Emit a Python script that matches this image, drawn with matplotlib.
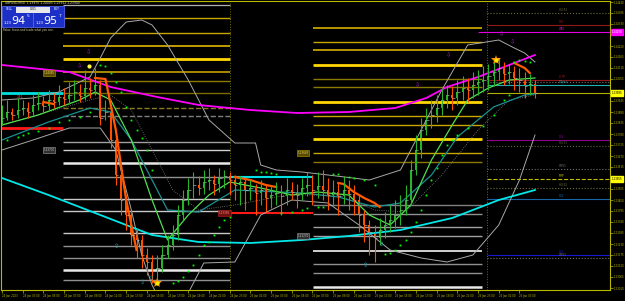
import matplotlib.pyplot as plt
from matplotlib.patches import Rectangle
from matplotlib.transforms import blended_transform_factory
import numpy as np

# GBPUSD M30, bar 0 = 24 Jan 01:00
first_open = 1.23840
closes = [1.23860, 1.23890, 1.23875, 1.23900, 1.23910, 1.23890, 1.23925, 1.23935, 1.23920, 1.23950,
          1.23940, 1.23965, 1.23955, 1.23975, 1.23990, 1.23970, 1.24010, 1.24000, 1.24025, 1.23860,
          1.23890, 1.23750, 1.23575, 1.23450, 1.23375, 1.23275, 1.23250, 1.23175, 1.23140, 1.23100,
          1.23110, 1.23175, 1.23225, 1.23275, 1.23375, 1.23450, 1.23500, 1.23525, 1.23510, 1.23540,
          1.23550, 1.23530, 1.23560, 1.23570, 1.23550, 1.23525, 1.23540, 1.23500, 1.23510, 1.23485,
          1.23500, 1.23460, 1.23475, 1.23485, 1.23470, 1.23500, 1.23490, 1.23475, 1.23510, 1.23525,
          1.23500, 1.23520, 1.23500, 1.23475, 1.23490, 1.23470, 1.23500, 1.23480, 1.23450, 1.23375,
          1.23325, 1.23290, 1.23260, 1.23300, 1.23325, 1.23350, 1.23375, 1.23400, 1.23450, 1.23600,
          1.23700, 1.23800, 1.23850, 1.23875, 1.23910, 1.23950, 1.23975, 1.23960, 1.23990, 1.24010,
          1.24000, 1.24025, 1.24040, 1.24050, 1.24070, 1.24090, 1.24110, 1.24080, 1.24090, 1.24060,
          1.24050, 1.24020, 1.24030, 1.23985]
highs = [1.23925, 1.23950, 1.23910, 1.23960, 1.23950, 1.23940, 1.23975, 1.23990, 1.23970, 1.24000,
         1.23985, 1.24025, 1.24010, 1.24040, 1.24050, 1.24030, 1.24100, 1.24060, 1.24110, 1.24050,
         1.23950, 1.23900, 1.23760, 1.23600, 1.23475, 1.23400, 1.23310, 1.23275, 1.23210, 1.23175,
         1.23175, 1.23225, 1.23275, 1.23325, 1.23425, 1.23500, 1.23560, 1.23590, 1.23570, 1.23600,
         1.23610, 1.23575, 1.23610, 1.23600, 1.23590, 1.23575, 1.23570, 1.23560, 1.23550, 1.23530,
         1.23550, 1.23525, 1.23520, 1.23540, 1.23525, 1.23560, 1.23540, 1.23530, 1.23560, 1.23590,
         1.23575, 1.23590, 1.23600, 1.23560, 1.23550, 1.23540, 1.23570, 1.23550, 1.23525, 1.23475,
         1.23400, 1.23350, 1.23325, 1.23360, 1.23390, 1.23425, 1.23450, 1.23475, 1.23525, 1.23650,
         1.23775, 1.23860, 1.23910, 1.23950, 1.23975, 1.24010, 1.24025, 1.24020, 1.24050, 1.24070,
         1.24060, 1.24090, 1.24100, 1.24120, 1.24130, 1.24140, 1.24160, 1.24140, 1.24130, 1.24120,
         1.24110, 1.24090, 1.24080, 1.24050]
lows = [1.23825, 1.23850, 1.23850, 1.23860, 1.23875, 1.23860, 1.23875, 1.23900, 1.23890, 1.23900,
        1.23910, 1.23925, 1.23925, 1.23930, 1.23950, 1.23940, 1.23950, 1.23960, 1.23975, 1.23825,
        1.23850, 1.23710, 1.23525, 1.23375, 1.23300, 1.23225, 1.23160, 1.23110, 1.23075, 1.23035,
        1.23050, 1.23090, 1.23160, 1.23200, 1.23250, 1.23350, 1.23425, 1.23460, 1.23475, 1.23480,
        1.23500, 1.23475, 1.23490, 1.23510, 1.23475, 1.23450, 1.23425, 1.23400, 1.23450, 1.23375,
        1.23425, 1.23390, 1.23410, 1.23425, 1.23375, 1.23425, 1.23450, 1.23410, 1.23450, 1.23470,
        1.23425, 1.23460, 1.23450, 1.23400, 1.23425, 1.23375, 1.23430, 1.23400, 1.23375, 1.23290,
        1.23240, 1.23175, 1.23140, 1.23225, 1.23260, 1.23290, 1.23310, 1.23325, 1.23375, 1.23425,
        1.23575, 1.23660, 1.23775, 1.23810, 1.23840, 1.23875, 1.23910, 1.23900, 1.23925, 1.23950,
        1.23940, 1.23960, 1.23975, 1.23990, 1.24000, 1.24020, 1.24050, 1.24025, 1.24030, 1.24000,
        1.23990, 1.23960, 1.23975, 1.23960]

# indicator lines (bar index, price)
magenta_x = [0, 13, 21, 30, 38, 48, 57, 67, 76, 82, 86, 92, 99, 103]
magenta_y = [1.24125, 1.24090, 1.24015, 1.23965, 1.23925, 1.23900, 1.23885, 1.23890, 1.23910,
             1.23960, 1.24015, 1.24065, 1.24135, 1.24175]
cyan_x = [0, 9, 19, 29, 38, 48, 58, 67, 77, 87, 96, 103]
cyan_y = [1.23560, 1.23475, 1.23375, 1.23275, 1.23240, 1.23235, 1.23250, 1.23270, 1.23300,
          1.23360, 1.23450, 1.23500]
upper_x = [0, 6, 11, 17, 19, 21, 24, 27, 29, 32, 36, 40, 45, 49, 50, 53, 58, 63, 71, 77, 81, 85,
           90, 96, 99, 101, 103]
upper_y = [1.23950, 1.23960, 1.23990, 1.24065, 1.24160, 1.24260, 1.24340, 1.24350, 1.24325,
           1.24225, 1.24050, 1.23850, 1.23735, 1.23735, 1.23625, 1.23600, 1.23590, 1.23575,
           1.23550, 1.23600, 1.23800, 1.24000, 1.24225, 1.24250, 1.24210, 1.24185, 1.24140]
lower_x = [0, 6, 13, 19, 22, 25, 27, 29, 31, 33, 36, 39, 45, 50, 56, 63, 69, 75, 81, 86, 91, 96,
           100, 103]
lower_y = [1.23700, 1.23750, 1.23810, 1.23810, 1.23700, 1.23400, 1.23175, 1.23025, 1.22925,
           1.22900, 1.22985, 1.23135, 1.23140, 1.23375, 1.23450, 1.23435, 1.23325, 1.23200,
           1.23160, 1.23140, 1.23175, 1.23325, 1.23550, 1.23775]
mid_x = [0, 17, 21, 25, 29, 33, 38, 45, 55, 65, 72, 78, 85, 92, 98, 103]
mid_y = [1.23825, 1.23950, 1.23975, 1.23900, 1.23700, 1.23500, 1.23400, 1.23425, 1.23475,
         1.23475, 1.23400, 1.23390, 1.23575, 1.23800, 1.23950, 1.23975]
lime_x = [0, 7, 15, 18, 21, 25, 29, 32, 36, 40, 44, 50, 56, 61, 67, 71, 75, 79, 83, 87, 90, 94,
          98, 103]
lime_y = [1.23825, 1.23875, 1.23950, 1.23990, 1.23950, 1.23750, 1.23450, 1.23250, 1.23375,
          1.23475, 1.23540, 1.23510, 1.23475, 1.23490, 1.23475, 1.23375, 1.23325, 1.23425,
          1.23650, 1.23825, 1.23950, 1.24010, 1.24050, 1.24060]
teal_x = [0, 9, 17, 21, 25, 29, 32, 38, 45, 58, 65, 72, 77, 83, 88, 95, 101, 103]
teal_y = [1.23750, 1.23840, 1.23910, 1.23890, 1.23750, 1.23550, 1.23400, 1.23390, 1.23500,
          1.23485, 1.23465, 1.23415, 1.23435, 1.23575, 1.23765, 1.23915, 1.23975, 1.23980]
orange_segs = [([18, 20, 22, 24, 26], [1.24060, 1.24055, 1.23800, 1.23450, 1.23200]),
               ([45, 48, 51, 53], [1.23565, 1.23550, 1.23525, 1.23515]),
               ([65, 66, 68, 70, 72, 73], [1.23535, 1.23530, 1.23490, 1.23460, 1.23435, 1.23415]),
               ([99, 101, 102], [1.24135, 1.24110, 1.24085]),
               ([8, 10], [1.23940, 1.23930])]

sar_x = [1, 3, 4, 5, 7, 9, 11, 13, 15, 17,
         19, 20, 21, 22, 23, 24, 25, 26, 27, 28, 29,
         33, 34, 35, 36, 37, 38, 39, 40, 41, 42, 43, 44,
         49, 50, 51, 52, 53,
         54, 56, 58, 59, 61, 62,
         64, 65, 67, 68, 70, 72,
         74, 75, 76, 77, 78, 79, 80, 81, 82, 83, 84, 85, 86, 87, 88, 90, 93, 95, 97, 98,
         99, 100, 101, 102]
sar_y = [1.23750, 1.23765, 1.23775, 1.23785, 1.23795, 1.23810, 1.23840, 1.23850, 1.23865, 1.23890,
         1.24125, 1.24120, 1.24085, 1.24040, 1.23990, 1.23915, 1.23850, 1.23800, 1.23760, 1.23700, 1.23600,
         1.23035, 1.23045, 1.23065, 1.23095, 1.23125, 1.23175, 1.23225, 1.23240, 1.23275, 1.23315,
         1.23350, 1.23365,
         1.23600, 1.23590, 1.23590, 1.23585, 1.23580,
         1.23385, 1.23390, 1.23400, 1.23410, 1.23415, 1.23415,
         1.23580, 1.23580, 1.23565, 1.23560, 1.23550, 1.23525,
         1.23180, 1.23185, 1.23200, 1.23225, 1.23250, 1.23290, 1.23340, 1.23400, 1.23475, 1.23550,
         1.23610, 1.23675, 1.23725, 1.23750, 1.23775, 1.23810, 1.23820, 1.23875, 1.23950, 1.23975,
         1.24140, 1.24150, 1.24145, 1.24140]

# support / resistance levels
left_levels = [1.24425, 1.24360, 1.24285, 1.24220, 1.24155, 1.24090, 1.24045, 1.23985, 1.23910,
               1.23870, 1.23740, 1.23700, 1.23635, 1.23565, 1.23455, 1.23395, 1.23285, 1.23220,
               1.23160, 1.23100, 1.23050]
left_styles = [('#b0b0b0', 0.9, '-'), ('#c8a800', 1.0, '-'), ('#c8a800', 1.0, '-'),
               ('#e0b800', 1.2, '-'), ('#ffd700', 2.0, '-'), ('#c8a000', 1.2, '-'),
               ('#8a7a00', 1.0, '-'), ('#7a6a00', 1.0, '-'), ('#8a7a20', 1.0, '--'),
               ('#808080', 1.0, '--'), ('#a0a0a0', 1.0, '-'), ('#d0d0d0', 1.0, '-'),
               ('#e8e8e8', 1.8, '-'), ('#909090', 1.0, '-'), ('#c8c8c8', 1.0, '-'),
               ('#c8c8c8', 1.0, '-'), ('#c8c8c8', 1.0, '-'), ('#909090', 1.0, '-'),
               ('#909090', 1.0, '-'), ('#e8e8e8', 1.8, '-'), ('#909090', 1.0, '-')]
right_levels = [1.24310, 1.24240, 1.24200, 1.24125, 1.24055, 1.24015, 1.23940, 1.23870, 1.23825,
                1.23755, 1.23685, 1.23640, 1.23425, 1.23380, 1.23315, 1.23270, 1.23195, 1.23130,
                1.23085, 1.23015]
right_styles = [('#d4b000', 1.2, '-'), ('#c8a800', 1.0, '-'), ('#d4b000', 1.2, '-'),
                ('#ffd700', 2.0, '-'), ('#8a7a00', 1.0, '-'), ('#8a7a00', 1.0, '-'),
                ('#ffd700', 2.0, '-'), ('#c8a800', 1.0, '-'), ('#c8a800', 1.0, '-'),
                ('#ffd700', 2.0, '-'), ('#c8a800', 1.0, '-'), ('#8a7a00', 1.0, '-'),
                ('#808080', 1.0, '-'), ('#909090', 1.0, '-'), ('#a0a0a0', 1.0, '-'),
                ('#a0a0a0', 1.0, '-'), ('#d0d0d0', 1.4, '-'), ('#909090', 1.0, '-'),
                ('#909090', 1.0, '-'), ('#e8e8e8', 1.8, '-')]
# pivot lines on the right edge: price, label
pivot_prices = [1.24385, 1.24325, 1.24290, 1.24050, 1.24040, 1.24025, 1.23985, 1.23750,
                1.23720, 1.23605, 1.23555, 1.23510, 1.23455, 1.23175, 1.23160]
pivot_labels = ['H4 R2', 'DR1', 'WR1', 'D PP', '', 'DOpen', '', 'DS1', 'H4 S1', 'DMS1',
                'MPP', 'H4 S2', 'DS2', 'DS3', 'DMS3']
pivot_styles = [('#6a6a30', ':'), ('#901818', '-'), ('#e000e0', '-'), ('#901818', '-'),
                ('#707070', ':'), ('#20b0b0', '-'), ('#b0b000', '-'), ('#900090', '-'),
                ('#606040', ':'), ('#707070', ':'), ('#c0c000', '--'), ('#707040', ':'),
                ('#1868a8', '-'), ('#1818d0', '-'), ('#707070', ':')]

dates = ['24 Jan 2023', '24 Jan 03:00', '24 Jan 05:00', '24 Jan 07:00', '24 Jan 09:00',
         '24 Jan 11:00', '24 Jan 13:00', '24 Jan 15:00', '24 Jan 17:00', '24 Jan 19:00',
         '24 Jan 21:00', '24 Jan 23:00', '25 Jan 01:00', '25 Jan 03:00', '25 Jan 05:00',
         '25 Jan 07:00', '25 Jan 09:00', '25 Jan 11:00', '25 Jan 13:00', '25 Jan 15:00',
         '25 Jan 17:00', '25 Jan 19:00', '25 Jan 21:00', '25 Jan 23:00', '26 Jan 01:00',
         '26 Jan 03:00']
price_ticks = [1.24440, 1.24385, 1.24330, 1.24275, 1.24220, 1.24165, 1.24110, 1.24055,
               1.24000, 1.23945, 1.23890, 1.23835, 1.23780, 1.23725, 1.23670, 1.23615,
               1.23560, 1.23505, 1.23450, 1.23395, 1.23340, 1.23285, 1.23230, 1.23175,
               1.23120, 1.23065, 1.23010]
# highlighted price tags on the right scale
tag_prices = [1.24290, 1.23985, 1.23555]
tag_colors = [('#ff00ff', 'white'), ('#ffff00', 'black'), ('#ffff00', 'black')]

FG = '#b8b800'
BULL = '#28b428'
BEAR = '#ff5000'

fig = plt.figure(figsize=(6.25, 3.01), dpi=100, facecolor='black')
ax = fig.add_axes([1 / 625, 11 / 301, 609 / 625, 289 / 301])
ax.set_facecolor('black')
x0, x1 = -0.19, 117.5
ax.set_xlim(x0, x1)
ax.set_ylim(1.23000, 1.24445)

# level zones
for p, (c, w, ls) in zip(left_levels, left_styles):
    ax.hlines(p, 11.8, 44.1, colors=c, lw=w, linestyles=ls)
for p, (c, w, ls) in zip(right_levels, right_styles):
    ax.hlines(p, 60.1, 92.8, colors=c, lw=w, linestyles=ls)
ax.hlines(1.23985, x0, 11.8, colors='#00e0e0', lw=2)
ax.hlines(1.23810, x0, 11.8, colors='#ff1818', lw=2)
ax.hlines(1.23565, 44.1, 60.1, colors='#00e0e0', lw=1.5)
ax.hlines(1.23385, 44.1, 60.1, colors='#ff1818', lw=1.5)
for p, (c, ls) in zip(pivot_prices, pivot_styles):
    ax.hlines(p, 93.7, x1, colors=c, lw=0.8, linestyles=ls)
ax.hlines(1.24290, 92.0, 93.7, colors='#e000e0', lw=0.8)
for p, lab, (c, ls) in zip(pivot_prices, pivot_labels, pivot_styles):
    if lab:
        ax.text(107.6, p + 0.00003, lab, color=c, fontsize=2, va='bottom', ha='left')
ax.vlines([44.1, 93.7], 1.23, 1.24445, colors='#707000', lw=0.7, linestyles=':')

# bands and moving averages
ax.plot(upper_x, upper_y, color='#a8a8a8', lw=0.7)
ax.plot(lower_x, lower_y, color='#a8a8a8', lw=0.7)
ax.plot(mid_x, mid_y, color='#808080', lw=0.6, ls=':')
ax.plot(magenta_x, magenta_y, color='#ff00ff', lw=1.3)
ax.plot(cyan_x, cyan_y, color='#00e8e8', lw=1.3)
ax.plot(teal_x, teal_y, color='#1a9090', lw=0.9)
ax.plot(lime_x, lime_y, color='#50e050', lw=0.9)
for sx, sy in orange_segs:
    ax.plot(sx, sy, color='#ff5a00', lw=1.6)

# candles
idx = np.arange(len(closes))
c = np.array(closes)
o = np.array([first_open] + closes[:-1])
col = np.where(c >= o, BULL, BEAR)
ax.vlines(idx, lows, highs, colors=col, lw=0.8)
ax.bar(idx, np.abs(c - o), bottom=np.minimum(c, o), width=0.35, color=col)
ax.hlines(c, idx, idx + 0.45, colors='#d0d0d0', lw=0.4)

# parabolic SAR
ax.plot(sar_x, sar_y, 's', color='#00ff00', ms=1.3, mew=0)

# signal arrows and marks
for sx, sy in [(16.8, 1.24190), (14.9, 1.24120), (96.6, 1.24280), (98.6, 1.24240),
               (86.4, 1.24175), (80.4, 1.24025)]:
    ax.text(sx, sy, '\u21e9', color='#a020c0', fontsize=4.5, ha='center', va='center')
for sx, sy in [(27.1, 1.23035), (29.0, 1.23060), (22.2, 1.23215), (70.3, 1.23120),
               (73.4, 1.23225)]:
    ax.text(sx, sy, '\u21e7', color='#20a8b0', fontsize=4.5, ha='center', va='center')
ax.plot([30, 95.5], [1.23035, 1.24150], '*', color='#ff9000', ms=7, mew=0)
ax.plot([30, 95.5], [1.23035, 1.24150], 'o', color='#ffe800', ms=3, mew=0)
ax.plot([16.8], [1.24120], 'o', color='#ffff40', ms=3, mew=0)
ax.text(3.5, 1.23965, '241', color='#ff3030', fontsize=2.5, ha='center', va='center')

box = dict(boxstyle='square,pad=0.25', lw=0.4)
ax.text(9.1, 1.24085, '1.24085', fontsize=2, color='#e0d060', va='center', ha='center',
        bbox=dict(box, fc='#5a4a00', ec='#b0a000'))
ax.text(9.1, 1.23700, '1.23700', fontsize=2, color='#c0c0c0', va='center', ha='center',
        bbox=dict(box, fc='#303030', ec='#a0a0a0'))
ax.text(58.2, 1.23685, '1.23685', fontsize=2, color='#e0d060', va='center', ha='center',
        bbox=dict(box, fc='#5a4a00', ec='#b0a000'))
ax.text(58.2, 1.23270, '1.23270', fontsize=2, color='#c0c0c0', va='center', ha='center',
        bbox=dict(box, fc='#303030', ec='#a0a0a0'))
ax.text(43.0, 1.23385, '1.23385', fontsize=2, color='#ff9090', va='center', ha='center',
        bbox=dict(box, fc='#701010', ec='#c02020'))

# axes styling
for s in ax.spines.values():
    s.set_color(FG)
    s.set_linewidth(0.8)
ax.set_xticks([4 * k for k in range(len(dates))])
ax.set_xticklabels(dates, ha='left')
ax.yaxis.tick_right()
ax.set_yticks(price_ticks)
# the coloured tags sit on top of the scale, so hide the tick text under them
ytl = []
for p in price_ticks:
    near = min(abs(p - t) for t in tag_prices) < 0.0003
    ytl.append('' if near else '%.5f' % p)
ax.set_yticklabels(ytl)
ax.tick_params(colors=FG, labelsize=1.9, length=2, width=0.5, pad=0.8)

tr = blended_transform_factory(ax.transAxes, ax.transData)
for p, (fc, tc) in zip(tag_prices, tag_colors):
    ax.text(1.003, p, '%.5f' % p, transform=tr, fontsize=1.9, color=tc, va='center',
            ha='left', bbox=dict(boxstyle='square,pad=0.3', fc=fc, ec=fc), clip_on=False)

# trade panel overlay (pixel coordinates)
ov = fig.add_axes([0, 0, 1, 1])
ov.set_xlim(0, 625)
ov.set_ylim(301, 0)
ov.axis('off')
ov.text(5, 3.5, 'GBPUSD,M30  1.23975 1.24005 1.23912 1.23940', fontsize=2.2,
        color='#d8d8c0', va='center')
ov.add_patch(Rectangle((2, 6), 62, 21, fc='#1c30c8', ec='#6070ff', lw=0.5))
ov.add_patch(Rectangle((16, 6.5), 34, 6, fc='#e8e8e8', ec='none'))
ov.text(9, 9.5, 'SELL', fontsize=2.2, color='white', ha='center', va='center')
ov.text(57, 9.5, 'BUY', fontsize=2.2, color='white', ha='center', va='center')
ov.text(33, 9.5, '0.01', fontsize=2.2, color='black', ha='center', va='center')
ov.plot([33, 33], [13, 27], color='#6070ff', lw=0.5)
ov.text(4, 23, '1.23', fontsize=2.6, color='white', va='center')
ov.text(11.5, 20.5, '94', fontsize=8, color='white', va='center')
ov.text(27, 16, '5', fontsize=3.2, color='white', va='center')
ov.text(35.5, 23, '1.23', fontsize=2.6, color='white', va='center')
ov.text(43, 20.5, '95', fontsize=8, color='white', va='center')
ov.text(58.5, 16, '7', fontsize=3.2, color='white', va='center')
ov.text(3, 29.5, 'Relax, focus and trade what you see.', fontsize=2, color='#d0d0a0',
        va='center')

fig.savefig('out.png', dpi=100, facecolor='black')
